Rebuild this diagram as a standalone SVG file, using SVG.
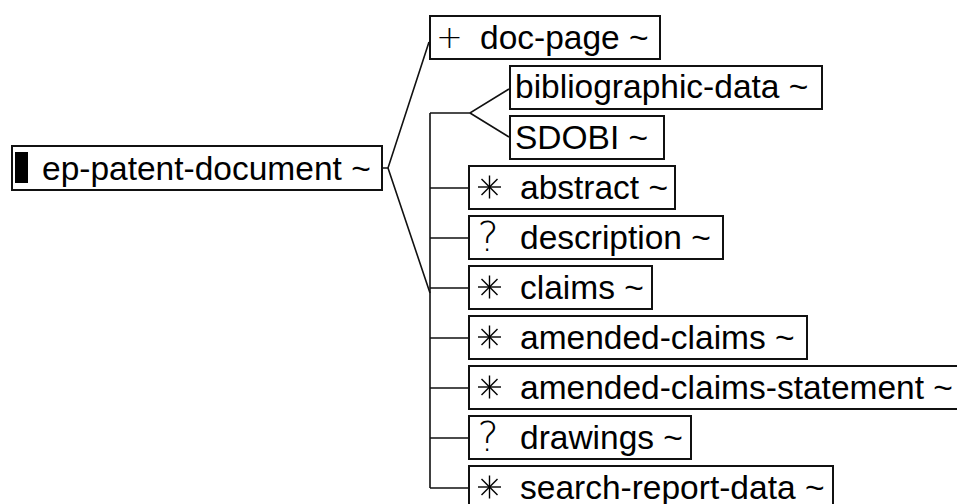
<svg xmlns="http://www.w3.org/2000/svg" xmlns:xlink="http://www.w3.org/1999/xlink" width="957" height="504" viewBox="0 0 957 504">
<style>
.box{fill:#fff;stroke:#111;stroke-width:2}
.lbl{font-family:"Liberation Sans",Arial,sans-serif;font-size:33.5px;fill:#000}
.sym{font-family:"DejaVu Sans",sans-serif;font-weight:200;fill:#000}
.con{fill:none;stroke:#111;stroke-width:1.6}
.ast line{stroke:#000;stroke-width:1.4}
</style>
<defs>
<g id="star" class="ast">
<line x1="0" y1="-11.5" x2="0" y2="11.5"/>
<line x1="-11.5" y1="0" x2="11.5" y2="0"/>
<line x1="-8" y1="-8" x2="8" y2="8"/>
<line x1="-8" y1="8" x2="8" y2="-8"/>
</g>
</defs>
<rect width="957" height="504" fill="#fff"/>
<g id="connectors">
<path class="con" d="M382 168H388L429 42M388 168L430 293"/>
<path class="con" d="M430 113V488M430 113H470L509 89M470 113L509 137"/>
<path class="con" d="M430 188H469M430 238H469M430 288H469M430 338H469M430 388H469M430 438H469M430 488H469"/>
</g>
<g id="ep-patent-document">
<rect class="box" x="12" y="146" width="370" height="44"/>
<rect x="15" y="152" width="13" height="31" fill="#000"/>
<text class="lbl" x="42" y="180">ep-patent-document ~</text>
</g>
<g id="doc-page">
<rect class="box" x="430" y="16" width="230" height="43"/>
<text class="sym" x="449.5" y="48" font-size="32" text-anchor="middle">+</text>
<text class="lbl" x="480" y="49">doc-page ~</text>
</g>
<g id="bibliographic-data">
<rect class="box" x="510" y="66" width="312" height="43"/>
<text class="lbl" x="515" y="98">bibliographic-data ~</text>
</g>
<g id="SDOBI">
<rect class="box" x="510" y="116" width="154" height="43"/>
<text class="lbl" x="515" y="149">SDOBI ~</text>
</g>
<g id="abstract">
<rect class="box" x="469" y="166" width="206" height="43"/>
<use href="#star" x="489.5" y="187"/>
<text class="lbl" x="520" y="199">abstract ~</text>
</g>
<g id="description">
<rect class="box" x="469" y="216" width="254" height="43"/>
<text class="sym" x="488" y="251" font-size="40" text-anchor="middle">?</text>
<text class="lbl" x="520" y="249">description ~</text>
</g>
<g id="claims">
<rect class="box" x="469" y="266" width="183" height="43"/>
<use href="#star" x="489.5" y="287"/>
<text class="lbl" x="520" y="299">claims ~</text>
</g>
<g id="amended-claims">
<rect class="box" x="469" y="316" width="338" height="43"/>
<use href="#star" x="489.5" y="337"/>
<text class="lbl" x="520" y="349">amended-claims ~</text>
</g>
<g id="amended-claims-statement">
<rect class="box" x="469" y="366" width="492" height="43"/>
<use href="#star" x="489.5" y="387"/>
<text class="lbl" x="520" y="399">amended-claims-statement ~</text>
</g>
<g id="drawings">
<rect class="box" x="469" y="416" width="222" height="43"/>
<text class="sym" x="488" y="451" font-size="40" text-anchor="middle">?</text>
<text class="lbl" x="520" y="449">drawings ~</text>
</g>
<g id="search-report-data">
<rect class="box" x="469" y="466" width="364" height="43"/>
<use href="#star" x="489.5" y="487"/>
<text class="lbl" x="520" y="499">search-report-data ~</text>
</g>
</svg>
